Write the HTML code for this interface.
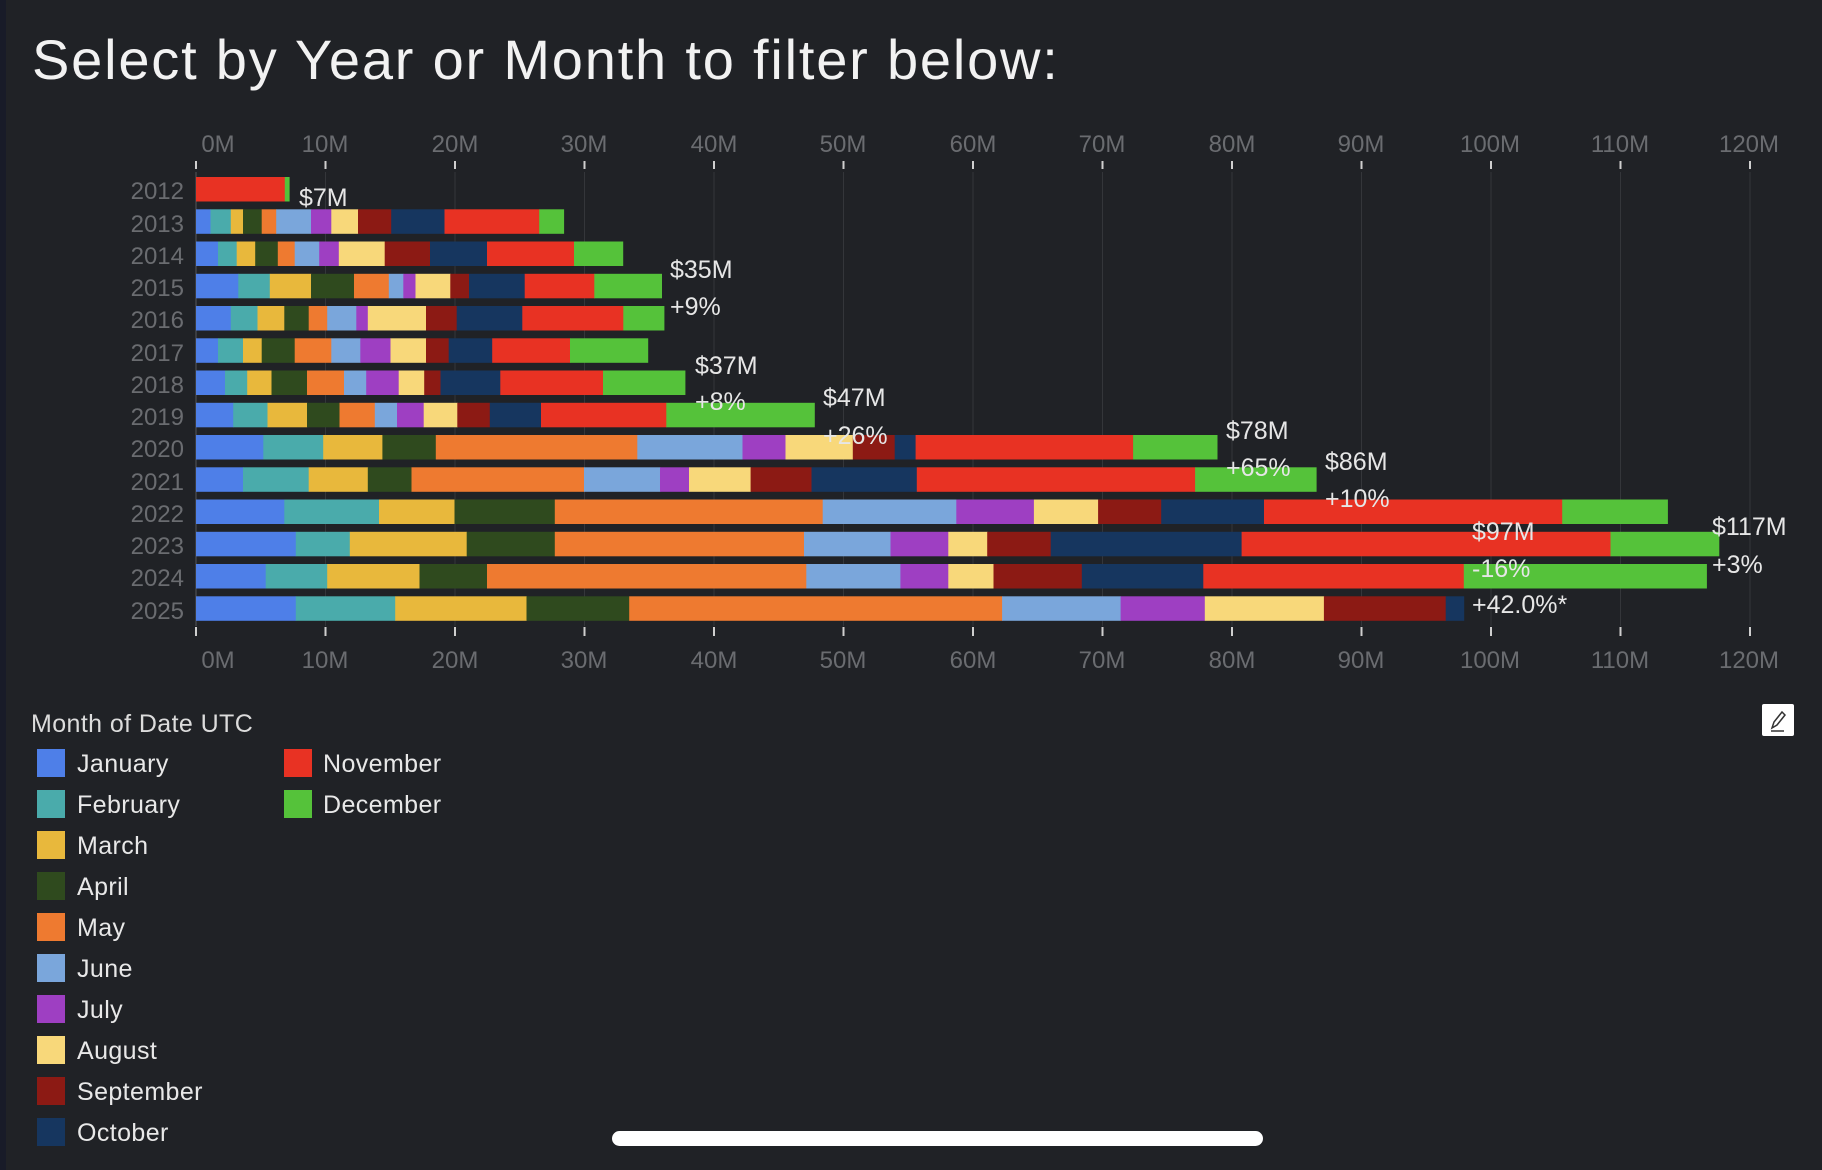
<!DOCTYPE html>
<html><head><meta charset="utf-8">
<style>
html,body{margin:0;padding:0;background:#202226;}
body{width:1822px;height:1170px;overflow:hidden;position:relative;font-family:"Liberation Sans","DejaVu Sans",sans-serif;}
svg{position:absolute;left:0;top:0;}
</style></head><body>
<svg id="s" width="1822" height="1170" viewBox="0 0 1822 1170" xmlns="http://www.w3.org/2000/svg" font-family="Liberation Sans, DejaVu Sans, sans-serif">
<rect x="0" y="0" width="1822" height="1170" fill="#202226"/>
<rect x="0" y="0" width="6" height="1170" fill="#181b28"/>
<text x="32" y="79" font-size="56" letter-spacing="1.8" fill="#f2f2f2">Select by Year or Month to filter below:</text>
<g id="grid"></g>
<g font-size="24" fill="#6a6c70" text-anchor="middle">
<text x="218" y="152">0M</text><text x="325" y="152">10M</text><text x="455" y="152">20M</text><text x="584" y="152">30M</text><text x="714" y="152">40M</text><text x="843" y="152">50M</text><text x="973" y="152">60M</text><text x="1102" y="152">70M</text><text x="1232" y="152">80M</text><text x="1361" y="152">90M</text><text x="1490" y="152">100M</text><text x="1620" y="152">110M</text><text x="1749" y="152">120M</text>
<text x="218" y="668">0M</text><text x="325" y="668">10M</text><text x="455" y="668">20M</text><text x="584" y="668">30M</text><text x="714" y="668">40M</text><text x="843" y="668">50M</text><text x="973" y="668">60M</text><text x="1102" y="668">70M</text><text x="1232" y="668">80M</text><text x="1361" y="668">90M</text><text x="1490" y="668">100M</text><text x="1620" y="668">110M</text><text x="1749" y="668">120M</text>
</g>
<g font-size="24" fill="#6a6c70" text-anchor="end">
<text x="184" y="199">2012</text><text x="184" y="232">2013</text><text x="184" y="264">2014</text><text x="184" y="296">2015</text><text x="184" y="328">2016</text><text x="184" y="361">2017</text><text x="184" y="393">2018</text><text x="184" y="425">2019</text><text x="184" y="457">2020</text><text x="184" y="490">2021</text><text x="184" y="522">2022</text><text x="184" y="554">2023</text><text x="184" y="586">2024</text><text x="184" y="619">2025</text>
</g>
<g id="bars"></g>
<g font-size="25" fill="#e6e6e6">
<text x="299" y="206">$7M</text>
<text x="670" y="278">$35M</text><text x="670" y="315">+9%</text>
<text x="695" y="374">$37M</text><text x="695" y="410">+8%</text>
<text x="823" y="406">$47M</text><text x="823" y="444">+26%</text>
<text x="1226" y="439">$78M</text><text x="1226" y="476">+65%</text>
<text x="1325" y="470">$86M</text><text x="1325" y="507">+10%</text>
<text x="1472" y="540">$97M</text><text x="1472" y="577">-16%</text>
<text x="1712" y="535">$117M</text><text x="1712" y="573">+3%</text>
<text x="1472" y="613">+42.0%*</text>
</g>
<text x="31" y="732" font-size="25" letter-spacing="0.4" fill="#dcdcdc">Month of Date UTC</text>
<g font-size="25" fill="#e8e8e8" letter-spacing="0.4">
<rect x="37" y="749" width="28" height="28" fill="#4e7fe8"/><text x="77" y="772">January</text>
<rect x="37" y="790" width="28" height="28" fill="#4aabab"/><text x="77" y="813">February</text>
<rect x="37" y="831" width="28" height="28" fill="#e8b83c"/><text x="77" y="854">March</text>
<rect x="37" y="872" width="28" height="28" fill="#2f4a1e"/><text x="77" y="895">April</text>
<rect x="37" y="913" width="28" height="28" fill="#ee7a30"/><text x="77" y="936">May</text>
<rect x="37" y="954" width="28" height="28" fill="#7aa6db"/><text x="77" y="977">June</text>
<rect x="37" y="995" width="28" height="28" fill="#9e3fc2"/><text x="77" y="1018">July</text>
<rect x="37" y="1036" width="28" height="28" fill="#f8d87a"/><text x="77" y="1059">August</text>
<rect x="37" y="1077" width="28" height="28" fill="#8c1a14"/><text x="77" y="1100">September</text>
<rect x="37" y="1118" width="28" height="28" fill="#16365f"/><text x="77" y="1141">October</text>
<rect x="284" y="749" width="28" height="28" fill="#e83223"/><text x="323" y="772">November</text>
<rect x="284" y="790" width="28" height="28" fill="#55c23a"/><text x="323" y="813">December</text>
</g>
<rect x="1762" y="704" width="32" height="32" fill="#ffffff" rx="2"/>
<path d="M1772 728 L1774 722 L1782 712 L1785 715 L1777 725 Z M1771 731 L1784 731" stroke="#333" stroke-width="1.5" fill="none"/>
<rect x="612" y="1131" width="651" height="15" rx="7.5" fill="#ffffff"/>
</svg>
<script>
(function(){
var NS="http://www.w3.org/2000/svg";
var x0=196,k=12.95;
var cols=["#4e7fe8","#4aabab","#e8b83c","#2f4a1e","#ee7a30","#7aa6db","#9e3fc2","#f8d87a","#8c1a14","#16365f","#e83223","#55c23a"];
var d=[
[0,0,0,0,0,0,0,0,0,0,6.86,7.2],
[1.12,2.69,3.63,5.07,6.19,8.88,10.45,12.51,15.07,19.19,26.5,28.39],
[1.70,3.14,4.57,6.32,7.62,9.51,11.03,14.57,18.07,22.47,29.19,32.96],
[3.27,5.70,8.88,12.20,14.89,16.01,16.95,19.64,21.08,25.38,30.76,35.96],
[2.69,4.75,6.82,8.70,10.13,12.38,13.27,17.76,20.13,25.2,33.0,36.14],
[1.70,3.63,5.07,7.62,10.45,12.69,15.02,17.76,19.51,22.87,28.88,34.89],
[2.24,3.95,5.83,8.57,11.43,13.14,15.65,17.62,18.88,23.5,31.43,37.76],
[2.87,5.52,8.57,11.08,13.81,15.52,17.58,20.18,22.69,26.64,36.32,47.76],
[5.2,9.82,14.39,18.52,34.08,42.2,45.52,50.72,53.95,55.57,72.36,78.85],
[3.63,8.70,13.27,16.64,29.96,35.83,38.07,42.83,47.53,55.66,77.15,86.5],
[6.82,14.13,19.96,27.71,48.39,58.71,64.7,69.66,74.53,82.47,105.5,113.63],
[7.71,11.88,20.9,27.71,46.95,53.63,58.09,61.1,66.0,80.74,109.23,117.6],
[5.38,10.13,17.26,22.47,47.13,54.39,58.09,61.58,68.4,77.78,97.9,116.64],
[7.71,15.38,25.52,33.45,62.25,71.4,77.9,87.1,96.5,97.9,97.9,97.9]];
var g=document.getElementById("grid");
for(var i=0;i<=12;i++){var x=x0+i*129.5;
 var l=document.createElementNS(NS,"line");l.setAttribute("x1",x);l.setAttribute("x2",x);l.setAttribute("y1",172);l.setAttribute("y2",626);l.setAttribute("stroke",i==0?"#55575b":"#34363a");l.setAttribute("stroke-width",1);g.appendChild(l);
 [[161,169],[627,636]].forEach(function(t){var m=document.createElementNS(NS,"line");m.setAttribute("x1",x);m.setAttribute("x2",x);m.setAttribute("y1",t[0]);m.setAttribute("y2",t[1]);m.setAttribute("stroke","#cfcfcf");m.setAttribute("stroke-width",2);g.appendChild(m);});
}
var b=document.getElementById("bars");
for(var r=0;r<d.length;r++){var y=177+r*32.25,p=0;
 for(var j=0;j<12;j++){var c=d[r][j];if(c>p){var e=document.createElementNS(NS,"rect");e.setAttribute("x",(x0+p*k).toFixed(1));e.setAttribute("y",y.toFixed(1));e.setAttribute("width",((c-p)*k+0.4).toFixed(1));e.setAttribute("height",24.5);e.setAttribute("fill",cols[j]);b.appendChild(e);}p=Math.max(p,c);}
}
})();
</script>
</body></html>
